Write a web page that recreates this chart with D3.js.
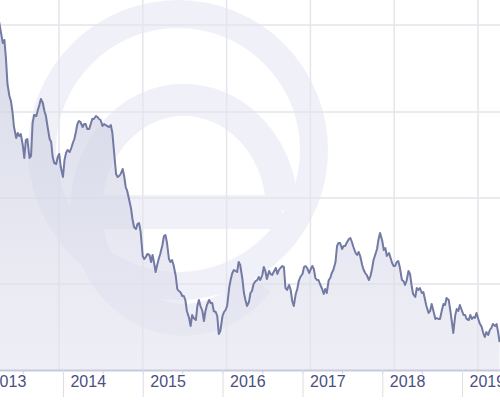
<!DOCTYPE html>
<html>
<head>
<meta charset="utf-8">
<script src="https://cdn.jsdelivr.net/npm/d3@7"></script>
<style>
  body { margin: 0; background: #fff; }
  svg { display: block; }
</style>
</head>
<body>
<svg id="chart" width="500" height="400"></svg>
<script>
// one row per month, sampled on the 1st, 8th, 15th and 22nd
const months = [
  "2013-03", "2013-04", "2013-05", "2013-06", "2013-07", "2013-08", "2013-09", "2013-10", "2013-11", "2013-12",
  "2014-01", "2014-02", "2014-03", "2014-04", "2014-05", "2014-06", "2014-07", "2014-08", "2014-09", "2014-10", "2014-11", "2014-12",
  "2015-01", "2015-02", "2015-03", "2015-04", "2015-05", "2015-06", "2015-07", "2015-08", "2015-09", "2015-10", "2015-11", "2015-12",
  "2016-01", "2016-02", "2016-03", "2016-04", "2016-05", "2016-06", "2016-07", "2016-08", "2016-09", "2016-10", "2016-11", "2016-12",
  "2017-01", "2017-02", "2017-03", "2017-04", "2017-05", "2017-06", "2017-07", "2017-08", "2017-09", "2017-10", "2017-11", "2017-12",
  "2018-01", "2018-02", "2018-03", "2018-04", "2018-05", "2018-06", "2018-07", "2018-08", "2018-09", "2018-10", "2018-11", "2018-12",
  "2019-01", "2019-02", "2019-03", "2019-04", "2019-05", "2019-06"
];
const sampleDays = ["01", "08", "15", "22"];

const values = [
  [null, null, 348, 339], [327, 330, 312, 286], [274, 269, 258, 243], [232, 237, 234, 236],
  [225, 212, 230, 231], [212, 214, 247, 255], [254, 260, 265, 271], [267, 259, 254, 244],
  [231, 228, 213, 207], [206, 213, 216, 203],
  [193, 210, 217, 220], [218, 222, 227, 231], [238, 246, 249, 248], [243, 246, 246, 241],
  [241, 246, 251, 251], [254, 253, 251, 250], [244, 246, 245, 244], [243, 245, 237, 220],
  [196, 193, 194, 196], [201, 194, 183, 179], [169, 162, 151, 143], [141, 146, 147, 139],
  [114, 111, 113, 116], [115, 108, 115, 107], [98, 105, 111, 116], [125, 134, 135, 127],
  [111, 108, 110, 105], [94, 81, 79, 78], [74, 74, 70, 59], [52, 44, 55, 52],
  [50, 64, 70, 64], [59, 49, 59, 65], [70, 67, 67, 59], [58, 54, 36, 39],
  [54, 58, 60, 64], [83, 91, 97, 100], [99, 98, 108, 105], [91, 77, 70, 64],
  [68, 77, 79, 86], [89, 90, 93, 90], [95, 103, 99, 91], [99, 96, 95, 98],
  [102, 96, 100, 102], [104, 103, 82, 80], [85, 80, 69, 64], [76, 81, 89, 93],
  [96, 103, 104, 102], [97, 101, 104, 101], [92, 90, 90, 86], [81, 76, 81, 77],
  [90, 92, 97, 100], [108, 124, 127, 127], [121, 124, 124, 127], [131, 132, 128, 123],
  [117, 115, 118, 114], [105, 100, 97, 95], [90, 94, 101, 110], [116, 121, 131, 137],
  [129, 120, 122, 114], [117, 112, 107, 104], [104, 108, 109, 103], [90, 89, 85, 89],
  [99, 96, 85, 76], [73, 82, 80, 82], [77, 78, 71, 64], [57, 59, 66, 60],
  [51, 52, 51, 51], [60, 66, 65, 72], [70, 60, 49, 37], [55, 61, 59, 65],
  [59, 55, 55, 51], [50, 55, 51, 53], [52, 57, 52, 47], [43, 37, 33, 38],
  [35, 40, 42, 46], [44, 46, 38, 28]
];

const gridValues = [86, 172, 258, 345];

const parse = d3.utcParse("%Y-%m-%d");
const data = [];
months.forEach((m, i) => {
  sampleDays.forEach((d, j) => {
    const v = values[i][j];
    if (v !== null) data.push({ date: parse(m + "-" + d), value: v });
  });
});

const width = 500;
const plotBottom = 370;

const svg = d3.select("#chart");

const x = d3.scaleUtc()
  .domain([new Date(Date.UTC(2013, 0, 1)), new Date(Date.UTC(2019, 6, 1))])
  .range([-16.8, 501.6]);

const y = d3.scaleLinear()
  .domain([0, plotBottom])
  .range([plotBottom, 0]);

const defs = svg.append("defs");
const grad = defs.append("linearGradient")
  .attr("id", "areaFill")
  .attr("gradientUnits", "userSpaceOnUse")
  .attr("x1", 0).attr("y1", 0)
  .attr("x2", 0).attr("y2", plotBottom);
grad.append("stop").attr("offset", "0%").attr("stop-color", "#c9cce0").attr("stop-opacity", 0.75);
grad.append("stop").attr("offset", "100%").attr("stop-color", "#e3e4ef").attr("stop-opacity", 0.6);

// background watermark: ring with an "e" inside
const markColor = "#f0f0f8";
const mark = svg.append("g").attr("fill", "none").attr("stroke", markColor);
mark.append("circle")
  .attr("cx", 178)
  .attr("cy", 150)
  .attr("r", 136)
  .attr("stroke-width", 28);

const ePath = d3.path();
ePath.moveTo(88, 212);
ePath.lineTo(282, 212);
mark.append("path")
  .attr("d", ePath.toString())
  .attr("stroke-width", 34);
mark.append("path")
  .attr("d", "M282,210 A98,110 0 1 0 258,282")
  .attr("stroke-width", 32);

// grid
const gridStep = 83.8;
const grid = svg.append("g")
  .attr("stroke", "#e5e5ea")
  .attr("stroke-width", 1.5);
grid.selectAll(".hgrid")
  .data(gridValues)
  .enter()
  .append("line")
  .attr("class", "hgrid")
  .attr("x1", 0)
  .attr("x2", width)
  .attr("y1", d => y(d))
  .attr("y2", d => y(d));
grid.selectAll(".vgrid")
  .data(d3.range(6))
  .enter()
  .append("line")
  .attr("class", "vgrid")
  .attr("x1", d => 59 + d * gridStep)
  .attr("x2", d => 59 + d * gridStep)
  .attr("y1", 0)
  .attr("y2", plotBottom);

const area = d3.area()
  .x(d => x(d.date))
  .y0(y(0))
  .y1(d => y(d.value));

const line = d3.line()
  .x(d => x(d.date))
  .y(d => y(d.value));

svg.append("path")
  .datum(data)
  .attr("fill", "url(#areaFill)")
  .attr("d", area);

svg.append("path")
  .datum(data)
  .attr("fill", "none")
  .attr("stroke", "#737aa3")
  .attr("stroke-width", 2)
  .attr("stroke-linejoin", "round")
  .attr("d", line);

// minor half-year ticks
svg.append("g")
  .attr("transform", `translate(0,${plotBottom})`)
  .call(d3.axisBottom(x).ticks(d3.utcMonth.every(6)).tickSize(4).tickFormat(""))
  .call(g => g.select(".domain").remove())
  .call(g => g.selectAll(".tick text").remove())
  .call(g => g.selectAll(".tick line").attr("stroke", "#d3d5e4"));

// year axis
const xAxis = svg.append("g")
  .attr("transform", `translate(0,${plotBottom})`)
  .call(d3.axisBottom(x).ticks(d3.utcYear).tickSize(27).tickSizeOuter(0).tickFormat(d3.utcFormat("%Y")));

xAxis.select(".domain")
  .attr("stroke", "#c6c9de")
  .attr("stroke-width", 2);
xAxis.selectAll(".tick line")
  .attr("stroke", "#dcdeea");
xAxis.selectAll(".tick text")
  .attr("x", 7)
  .attr("y", 6)
  .attr("dy", "0.71em")
  .attr("text-anchor", "start")
  .attr("fill", "#4b5080")
  .attr("font-family", "Liberation Sans, Arial, sans-serif")
  .attr("font-size", 16);
</script>
</body>
</html>
